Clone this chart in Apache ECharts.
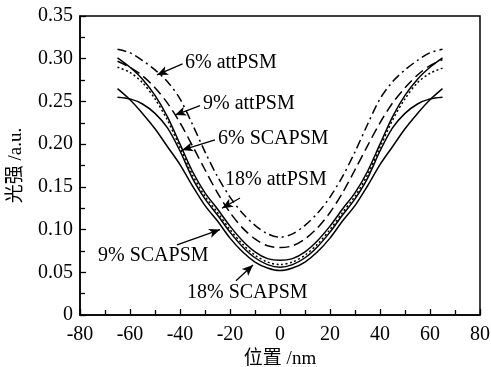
<!DOCTYPE html>
<html><head><meta charset="utf-8">
<script src="https://cdn.jsdelivr.net/npm/echarts@6/dist/echarts.min.js"></script>
<style>html,body{margin:0;padding:0;background:#fff}#c{width:491px;height:367px}</style>
</head><body><div id="c"></div>
<script>
const xs = [-65,-60,-55,-50,-45,-40,-35,-30,-25,-20,-15,-10,-5,0,5,10,15,20,25,30,35,40,45,50,55,60,65];
const att6  = [0.311,0.307,0.298,0.287,0.273,0.253,0.223,0.191,0.162,0.138,0.119,0.105,0.095,0.091,0.095,0.105,0.119,0.138,0.162,0.191,0.223,0.253,0.273,0.287,0.298,0.307,0.311];
const att9  = [0.297,0.290,0.280,0.266,0.248,0.225,0.198,0.170,0.143,0.120,0.102,0.089,0.081,0.079,0.081,0.089,0.102,0.120,0.143,0.170,0.198,0.225,0.248,0.266,0.281,0.292,0.299];
const sca6  = [0.301,0.290,0.276,0.257,0.232,0.200,0.168,0.143,0.124,0.104,0.087,0.074,0.066,0.064,0.066,0.074,0.087,0.104,0.124,0.143,0.168,0.200,0.232,0.257,0.276,0.290,0.301];
const sca9  = [0.290,0.284,0.272,0.253,0.228,0.196,0.164,0.139,0.120,0.100,0.083,0.070,0.062,0.059,0.062,0.070,0.083,0.100,0.120,0.139,0.164,0.196,0.228,0.253,0.272,0.283,0.289];
const att18 = [0.255,0.253,0.247,0.236,0.219,0.192,0.160,0.136,0.117,0.097,0.080,0.067,0.059,0.056,0.059,0.067,0.080,0.097,0.117,0.136,0.160,0.192,0.219,0.236,0.247,0.253,0.255];
const sca18 = [0.265,0.252,0.236,0.218,0.197,0.176,0.151,0.128,0.110,0.090,0.074,0.062,0.055,0.052,0.055,0.062,0.074,0.090,0.110,0.128,0.151,0.176,0.197,0.218,0.236,0.252,0.265];

const labelTexts = ['6% attPSM','9% attPSM','6% SCAPSM','18% attPSM','9% SCAPSM','18% SCAPSM'];
const labelPos   = [[-38,0.295],[-30.8,0.247],[-24.8,0.206],[-22,0.158],[-72.8,0.069],[-37.2,0.026]];
const arrowFrom  = [[-39,0.294],[-32,0.245],[-26,0.205],[-16,0.137],[-41.2,0.082],[-17.6,0.040]];
const arrowTo    = [[-49.2,0.281],[-42,0.234],[-39.2,0.193],[-23.2,0.125],[-24,0.100],[-10.8,0.0585]];

const FONT = 'Liberation Serif, "Noto Sans CJK SC", serif';
function pairs(ys){ return xs.map((x,i)=>[x,ys[i]]); }
function curve(name, ys, type){
  return {name, type:'line', data:pairs(ys), smooth:0.3, symbol:'none', silent:true,
    lineStyle:{color:'#000', width:1.5, type:type}};
}
const chart = echarts.init(document.getElementById('c'), null, {renderer:'canvas'});
chart.setOption({
  animation:false,
  backgroundColor:'#fff',
  grid:{left:80, top:16, right:11, bottom:52, containLabel:false, outerBoundsMode:'none',
    show:true, borderColor:'#000', borderWidth:1.5, backgroundColor:'transparent'},
  xAxis:{type:'value', min:-80, max:80, interval:20,
    name:'位置 /nm', nameLocation:'middle', nameGap:34,
    nameTextStyle:{fontFamily:FONT, fontSize:19, color:'#000'},
    axisLine:{onZero:false, lineStyle:{color:'#000', width:1.5}},
    axisTick:{inside:true, length:6, lineStyle:{color:'#000', width:1.3}},
    minorTick:{show:true, splitNumber:2, length:5, lineStyle:{color:'#000', width:1.3}},
    splitLine:{show:false},
    axisLabel:{fontFamily:FONT, fontSize:20, color:'#000', margin:10}},
  yAxis:{type:'value', min:0, max:0.35, interval:0.05,
    name:'光强 /a.u.', nameLocation:'middle', nameGap:54,
    nameTextStyle:{fontFamily:FONT, fontSize:19, color:'#000'},
    axisLine:{onZero:false, lineStyle:{color:'#000', width:1.5}},
    axisTick:{inside:true, length:6, lineStyle:{color:'#000', width:1.3}},
    minorTick:{show:true, splitNumber:2, length:5, lineStyle:{color:'#000', width:1.3}},
    splitLine:{show:false},
    axisLabel:{fontFamily:FONT, fontSize:20, color:'#000', margin:7,
      formatter:v=> v===0 ? '0' : v.toFixed(2)}},
  series:[
    curve('6% attPSM', att6, [9,4,2,4]),
    curve('9% attPSM', att9, [10,5]),
    curve('6% SCAPSM', sca6, 'solid'),
    curve('9% SCAPSM', sca9, [2,2.5]),
    curve('18% attPSM', att18, 'solid'),
    curve('18% SCAPSM', sca18, 'solid'),
    {type:'scatter', symbolSize:0, silent:true, itemStyle:{opacity:1},
      data: labelPos.map((p,i)=>[p[0],p[1],labelTexts[i]]),
      label:{show:true, position:'right', distance:0, formatter:p=>p.data[2],
        fontFamily:FONT, fontSize:20, color:'#000', opacity:1, textBorderWidth:0, textShadowBlur:0},
      markLine:{silent:true, symbol:['none','arrow'], symbolSize:[7,11],
        lineStyle:{color:'#000', width:1.3, type:'solid'}, label:{show:false},
        data: arrowFrom.map((f,i)=>[{coord:f},{coord:arrowTo[i]}])}
    }
  ]
});
</script></body></html>
